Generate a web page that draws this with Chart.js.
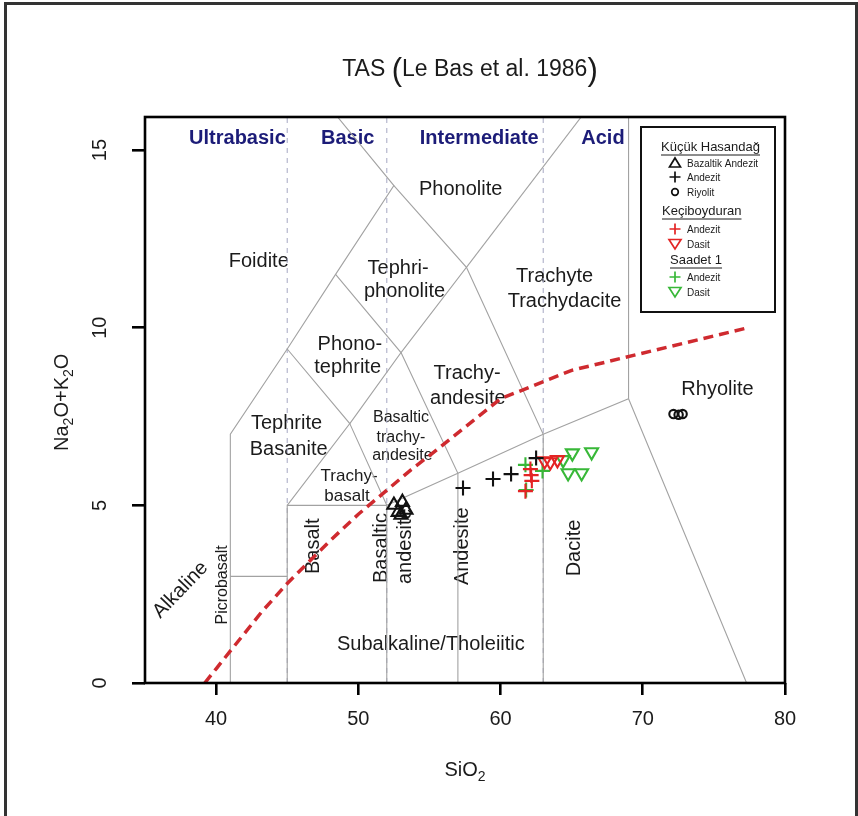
<!DOCTYPE html>
<html>
<head>
<meta charset="utf-8">
<title>TAS (Le Bas et al. 1986)</title>
<script src="https://cdn.jsdelivr.net/npm/chart.js@4.4.1/dist/chart.umd.min.js"></script>
<style>
  html, body { margin: 0; padding: 0; background: #fff; }
  #wrap { position: relative; width: 858px; height: 816px; overflow: hidden; }
  #frame { position: absolute; left: 4px; top: 2px; width: 848px; height: 840px; border: 3px solid #333; }
  #tas { position: absolute; left: 0; top: 0; }
</style>
</head>
<body>
<div id="wrap">
  <div id="frame"></div>
  <canvas id="tas" width="858" height="816"></canvas>
</div>
<script>
const FONT = '"Liberation Sans", Arial, Helvetica, sans-serif';

// axis ticks
const xTicks = [40, 50, 60, 70, 80];
const yTicks = [0, 5, 10, 15];

// Küçük Hasandağ
const khBazaltikAndezitSiO2 = [52.5, 53.1, 52.8, 53.0, 53.35];
const khBazaltikAndezitAlk  = [5.01, 5.09, 4.81, 4.73, 4.87];
const khAndezitSiO2 = [57.36, 59.47, 60.74, 62.5];
const khAndezitAlk  = [5.49, 5.74, 5.88, 6.33];
const khRiyolitSiO2 = [72.16, 72.52, 72.8];
const khRiyolitAlk  = [7.57, 7.55, 7.57];

// Keçiboyduran
const kbAndezitSiO2 = [62.1, 62.15, 62.2, 61.75];
const kbAndezitAlk  = [6.02, 5.85, 5.69, 5.4];
const kbDasitSiO2 = [63.1, 63.5, 64.0];
const kbDasitAlk  = [6.25, 6.22, 6.28];

// Saadet 1
const sdAndezitSiO2 = [61.75, 62.95, 61.8];
const sdAndezitAlk  = [6.14, 5.97, 5.43];
const sdDasitSiO2 = [64.4, 65.05, 66.4, 64.75, 65.7];
const sdDasitAlk  = [6.28, 6.47, 6.5, 5.91, 5.91];

// alkaline / subalkaline divide
const alkSiO2  = [39.2, 40, 43.2, 45, 48, 50, 53.7, 55, 60, 65, 77.4];
const alkTotal = [0, 0.4, 2, 2.8, 4, 4.75, 6, 6.4, 8, 8.8, 10];

// field boundaries, each one a polyline of [SiO2, Na2O+K2O]
const fieldLines = [
  [[41, 0], [41, 7], [45, 9.4], [48.4, 11.5], [52.5, 14], [48.4, 16]],
  [[41, 3], [45, 3]],
  [[45, 0], [45, 5], [52, 5], [52, 0]],
  [[45, 5], [49.4, 7.3], [45, 9.4]],
  [[49.4, 7.3], [52, 5], [57, 5.9], [63, 7], [69, 8], [77.3, 0]],
  [[49.4, 7.3], [53, 9.3], [48.4, 11.5]],
  [[53, 9.3], [57, 5.9], [57, 0]],
  [[53, 9.3], [57.6, 11.7], [52.5, 14]],
  [[57.6, 11.7], [63, 7], [63, 0]],
  [[57.6, 11.7], [65.8, 16]],
  [[69, 8], [69, 16]]
];

// ultrabasic / basic / intermediate / acid dividers
const silicaDividers = [45, 52, 63];

const pts = (xs, ys) => xs.map((x, i) => ({ x, y: ys[i] }));

function sample(group, name, xs, ys, color, style, rotation, radius) {
  return {
    group, label: name, data: pts(xs, ys), showLine: false,
    pointStyle: style, rotation, pointRadius: radius,
    pointBorderColor: color, pointBackgroundColor: 'rgba(0,0,0,0)',
    pointBorderWidth: 2.1, borderColor: color, backgroundColor: 'rgba(0,0,0,0)'
  };
}

const BLACK = '#111111', RED = '#e32424', GREEN = '#38b838';

const sampleSets = [
  sample('Küçük Hasandağ', 'Bazaltik Andezit', khBazaltikAndezitSiO2, khBazaltikAndezitAlk, BLACK, 'triangle', 0, 7.5),
  sample('Küçük Hasandağ', 'Andezit', khAndezitSiO2, khAndezitAlk, BLACK, 'cross', 0, 7.5),
  sample('Küçük Hasandağ', 'Riyolit', khRiyolitSiO2, khRiyolitAlk, BLACK, 'circle', 0, 4.2),
  sample('Keçiboyduran', 'Andezit', kbAndezitSiO2, kbAndezitAlk, RED, 'cross', 0, 7.5),
  sample('Keçiboyduran', 'Dasit', kbDasitSiO2, kbDasitAlk, RED, 'triangle', 180, 7.5),
  sample('Saadet 1', 'Andezit', sdAndezitSiO2, sdAndezitAlk, GREEN, 'cross', 0, 7.5),
  sample('Saadet 1', 'Dasit', sdDasitSiO2, sdDasitAlk, GREEN, 'triangle', 180, 7.5)
];

const curveSet = {
  label: 'Alkaline/Subalkaline', data: pts(alkSiO2, alkTotal), showLine: true,
  borderColor: '#cf2a2f', borderWidth: 3.5, borderDash: [10, 6], pointRadius: 0, tension: 0
};

const lineSets = fieldLines.map(line => ({
  label: 'field', data: line.map(p => ({ x: p[0], y: p[1] })), showLine: true,
  borderColor: '#a2a2a2', borderWidth: 1.1, pointRadius: 0, tension: 0
}));

const dividerSets = silicaDividers.map(s => ({
  label: 'divider', data: [{ x: s, y: 0 }, { x: s, y: 16 }], showLine: true,
  borderColor: '#aeb0c8', borderWidth: 1.1, borderDash: [5, 5], pointRadius: 0
}));

// names printed inside the fields
const fieldNames = [
  { t: 'Ultrabasic', x: 41.5, y: 15.33, size: 20, bold: true },
  { t: 'Basic', x: 49.25, y: 15.33, size: 20, bold: true },
  { t: 'Intermediate', x: 58.5, y: 15.33, size: 20, bold: true },
  { t: 'Acid', x: 67.2, y: 15.33, size: 20, bold: true },
  { t: 'Phonolite', x: 57.2, y: 13.88, size: 20 },
  { t: 'Foidite', x: 43.0, y: 11.85, size: 20 },
  { t: 'Tephri-', x: 52.8, y: 11.68, size: 20 },
  { t: 'phonolite', x: 53.25, y: 11.03, size: 20 },
  { t: 'Trachyte', x: 63.8, y: 11.43, size: 20 },
  { t: 'Trachydacite', x: 64.5, y: 10.75, size: 20 },
  { t: 'Phono-', x: 49.4, y: 9.54, size: 20 },
  { t: 'tephrite', x: 49.25, y: 8.87, size: 20 },
  { t: 'Trachy-', x: 57.65, y: 8.72, size: 20 },
  { t: 'andesite', x: 57.7, y: 8.02, size: 20 },
  { t: 'Rhyolite', x: 75.25, y: 8.25, size: 20 },
  { t: 'Tephrite', x: 44.95, y: 7.29, size: 20 },
  { t: 'Basanite', x: 45.1, y: 6.56, size: 20 },
  { t: 'Basaltic', x: 53.0, y: 7.46, size: 16 },
  { t: 'trachy-', x: 53.0, y: 6.92, size: 16 },
  { t: 'andesite', x: 53.1, y: 6.39, size: 16 },
  { t: 'Trachy-', x: 49.35, y: 5.83, size: 17 },
  { t: 'basalt', x: 49.2, y: 5.26, size: 17 },
  { t: 'Alkaline', x: 37.5, y: 2.62, size: 20, rot: -46 },
  { t: 'Picrobasalt', x: 40.45, y: 2.76, size: 16, rot: -90 },
  { t: 'Basalt', x: 46.85, y: 3.85, size: 20, rot: -90 },
  { t: 'Basaltic', x: 51.65, y: 3.8, size: 20, rot: -90 },
  { t: 'andesite', x: 53.35, y: 3.85, size: 20, rot: -90 },
  { t: 'Andesite', x: 57.35, y: 3.85, size: 20, rot: -90 },
  { t: 'Dacite', x: 65.2, y: 3.8, size: 20, rot: -90 },
  { t: 'Subalkaline/Tholeiitic', x: 55.1, y: 1.07, size: 20 }
];

function text(c, t, x, y, size, opt = {}) {
  c.save();
  c.translate(x, y);
  if (opt.rot) c.rotate(opt.rot * Math.PI / 180);
  c.font = (opt.bold ? 'bold ' : '') + size + 'px ' + FONT;
  c.fillStyle = opt.color || '#1b1b1b';
  c.textAlign = opt.align || 'center';
  c.textBaseline = 'middle';
  c.fillText(t, 0, 0);
  c.restore();
}

// text built from pieces of different size / vertical shift (subscripts, tall brackets)
function rich(c, parts, x, y, rot) {
  c.save();
  c.translate(x, y);
  if (rot) c.rotate(rot * Math.PI / 180);
  c.textBaseline = 'middle';
  c.textAlign = 'left';
  c.fillStyle = '#1b1b1b';
  let total = 0;
  const widths = parts.map(p => {
    c.font = p.size + 'px ' + FONT;
    const w = c.measureText(p.t).width;
    total += w;
    return w;
  });
  let cx = -total / 2;
  parts.forEach((p, i) => {
    c.font = p.size + 'px ' + FONT;
    c.fillText(p.t, cx, p.dy || 0);
    cx += widths[i];
  });
  c.restore();
}

function legendSymbol(c, ds, x, y) {
  c.save();
  c.strokeStyle = ds.pointBorderColor;
  c.lineWidth = 1.7;
  c.beginPath();
  if (ds.pointStyle === 'triangle' && ds.rotation === 0) {
    c.moveTo(x, y - 5); c.lineTo(x + 5.5, y + 4); c.lineTo(x - 5.5, y + 4); c.closePath();
  } else if (ds.pointStyle === 'triangle') {
    c.moveTo(x - 6, y - 4.5); c.lineTo(x + 6, y - 4.5); c.lineTo(x, y + 5); c.closePath();
  } else if (ds.pointStyle === 'cross') {
    c.moveTo(x - 5.5, y); c.lineTo(x + 5.5, y); c.moveTo(x, y - 5.5); c.lineTo(x, y + 5.5);
  } else {
    c.arc(x, y, 3.3, 0, Math.PI * 2);
  }
  c.stroke();
  c.restore();
}

const tasDecor = {
  id: 'tasDecor',
  beforeDatasetsDraw(chart) {
    const c = chart.ctx, sx = chart.scales.x, sy = chart.scales.y;
    c.save();
    c.beginPath();
    c.rect(chart.chartArea.left, chart.chartArea.top, chart.chartArea.width, chart.chartArea.height);
    c.clip();
    fieldNames.forEach(f => {
      text(c, f.t, sx.getPixelForValue(f.x), sy.getPixelForValue(f.y), f.size,
        { bold: f.bold, rot: f.rot, color: f.bold ? '#1c1c78' : '#1b1b1b' });
    });
    c.restore();
  },
  afterDatasetsDraw(chart) {
    const c = chart.ctx, a = chart.chartArea, sy = chart.scales.y;

    // box round the plot
    c.save();
    c.strokeStyle = '#000';
    c.lineWidth = 2.6;
    c.strokeRect(a.left, a.top, a.width, a.height);
    c.restore();

    // y tick labels, rotated like the axis title
    yTicks.forEach(v => text(c, String(v), a.left - 45, sy.getPixelForValue(v), 20, { rot: -90 }));

    // title and axis titles
    rich(c, [
      { t: 'TAS ', size: 23 }, { t: '(', size: 31, dy: 1 },
      { t: 'Le Bas et al. 1986', size: 23 }, { t: ')', size: 31, dy: 1 }
    ], (a.left + a.right) / 2 + 5, 70);
    rich(c, [{ t: 'SiO', size: 20 }, { t: '2', size: 14, dy: 7 }], (a.left + a.right) / 2, 770);
    rich(c, [
      { t: 'Na', size: 20 }, { t: '2', size: 14, dy: 7 }, { t: 'O+K', size: 20 },
      { t: '2', size: 14, dy: 7 }, { t: 'O', size: 20 }
    ], 62, sy.getPixelForValue(7.9), -90);

    // legend
    const L = a.right - 144, T = a.top + 10, W = 134, H = 185;
    c.save();
    c.fillStyle = '#fff';
    c.fillRect(L, T, W, H);
    c.strokeStyle = '#111';
    c.lineWidth = 2;
    c.strokeRect(L, T, W, H);
    c.restore();

    const headRows = { 'Küçük Hasandağ': [20, 20], 'Keçiboyduran': [84, 21], 'Saadet 1': [133, 29] };
    const itemRows = [36, 50, 65, 102, 117, 150, 165];
    Object.keys(headRows).forEach(h => {
      const [dy, dx] = headRows[h];
      c.save();
      c.font = '13px ' + FONT;
      c.fillStyle = '#1b1b1b';
      c.textBaseline = 'middle';
      c.fillText(h, L + dx, T + dy);
      const w = c.measureText(h).width;
      c.strokeStyle = '#1b1b1b';
      c.lineWidth = 1;
      c.beginPath();
      c.moveTo(L + dx, T + dy + 8);
      c.lineTo(L + dx + w, T + dy + 8);
      c.stroke();
      c.restore();
    });
    chart.data.datasets.filter(d => d.group).forEach((d, i) => {
      const y = T + itemRows[i];
      legendSymbol(c, d, L + 34, y);
      text(c, d.label, L + 46, y + 1, 10, { align: 'left' });
    });
  }
};

new Chart(document.getElementById('tas').getContext('2d'), {
  type: 'scatter',
  data: { datasets: [...sampleSets, curveSet, ...lineSets, ...dividerSets] },
  options: {
    responsive: false,
    animation: false,
    events: [],
    layout: { padding: { left: 0, top: 117, right: 73, bottom: 0 } },
    plugins: { legend: { display: false }, tooltip: { enabled: false } },
    scales: {
      x: {
        type: 'linear', min: 35, max: 80,
        afterBuildTicks: s => { s.ticks = xTicks.map(v => ({ value: v })); },
        afterFit: s => { s.height = 133; },
        ticks: { font: { family: FONT, size: 20 }, color: '#1b1b1b', padding: 12, maxRotation: 0 },
        grid: { drawOnChartArea: false, drawTicks: true, tickLength: 12, color: '#000', lineWidth: 2.6 },
        border: { display: false }
      },
      y: {
        type: 'linear', min: 0, max: 15.93,
        afterBuildTicks: s => { s.ticks = yTicks.map(v => ({ value: v })); },
        afterFit: s => { s.width = 145; },
        ticks: { display: false },
        grid: { drawOnChartArea: false, drawTicks: true, tickLength: 13, color: '#000', lineWidth: 2.6 },
        border: { display: false }
      }
    }
  },
  plugins: [tasDecor]
});
</script>
</body>
</html>
